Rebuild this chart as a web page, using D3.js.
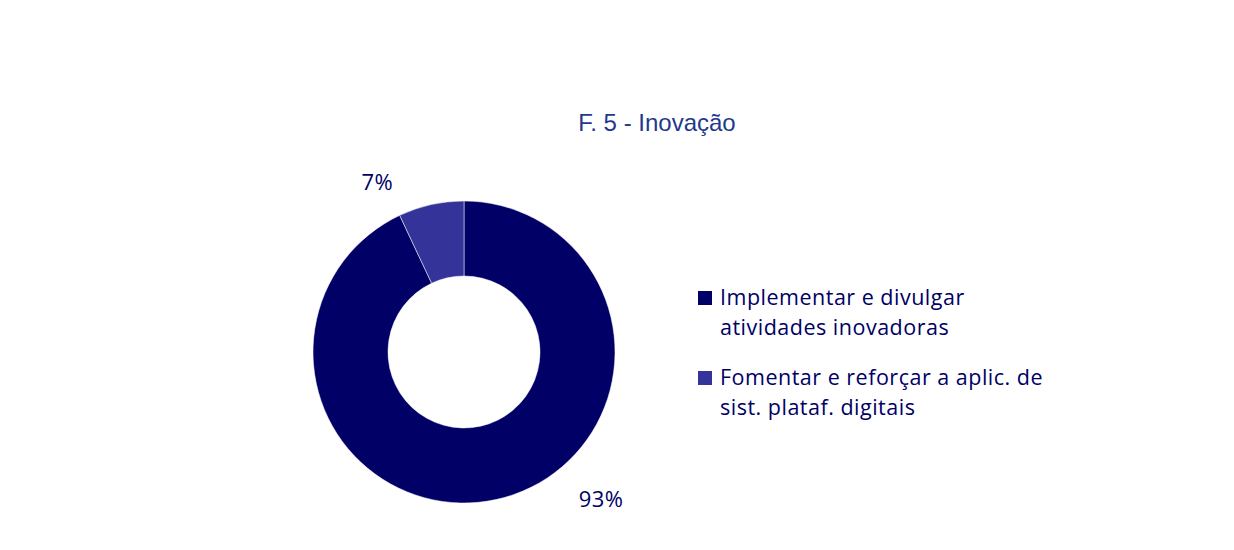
<!DOCTYPE html>
<html>
<head>
<meta charset="utf-8">
<script src="https://cdn.jsdelivr.net/npm/d3@7"></script>
<style>
  body { margin: 0; background: #fff; }
  svg { display: block; }
</style>
</head>
<body>
<svg id="chart" width="1234" height="550"></svg>
<script>
// Innovation breakdown
const title = "F. 5 - Inovação";
const categories = [
  ["Implementar e divulgar", "atividades inovadoras"],
  ["Fomentar e reforçar a aplic. de", "sist. plataf. digitais"]
];
const values = [93, 7];
const colors = ["#000066", "#333399"];

const svg = d3.select("#chart");
const cx = 464, cy = 352, outerR = 151, innerR = 76;
const bodyFont = "Open Sans, sans-serif";

svg.append("text")
  .attr("x", 657).attr("y", 131)
  .attr("text-anchor", "middle")
  .attr("font-family", "Liberation Sans, Arial, sans-serif")
  .attr("font-size", 24)
  .attr("fill", "#1f3a8c")
  .text(title);

const pie = d3.pie().sort(null).value(d => d);
const arcs = pie(values);
const arc = d3.arc().innerRadius(innerR).outerRadius(outerR);

const g = svg.append("g").attr("transform", `translate(${cx},${cy})`);
g.selectAll("path.slice")
  .data(arcs)
  .join("path")
  .attr("class", "slice")
  .attr("d", arc)
  .attr("fill", (d, i) => colors[i])
  .attr("stroke", "#fff")
  .attr("stroke-width", 0.5);

// percentage labels placed outside the ring
const labelPos = [
  { angle: 137 * Math.PI / 180, r: 201 },
  { angle: -27 * Math.PI / 180, r: 191 }
];
g.selectAll("text.pct")
  .data(arcs)
  .join("text")
  .attr("class", "pct")
  .attr("x", (d, i) => labelPos[i].r * Math.sin(labelPos[i].angle))
  .attr("y", (d, i) => -labelPos[i].r * Math.cos(labelPos[i].angle))
  .attr("dy", "0.35em")
  .attr("text-anchor", "middle")
  .attr("font-family", bodyFont)
  .attr("font-size", 22)
  .attr("letter-spacing", 0.5)
  .attr("fill", "#000066")
  .text(d => d.data + "%");

// legend
const legend = svg.append("g").attr("transform", "translate(698,0)");
const rows = legend.selectAll("g.item")
  .data(categories)
  .join("g")
  .attr("class", "item")
  .attr("transform", (d, i) => `translate(0,${298 + i * 80})`);
rows.append("rect")
  .attr("x", 0).attr("y", -7)
  .attr("width", 14).attr("height", 14)
  .attr("fill", (d, i) => colors[i]);
rows.each(function(lines) {
  const t = d3.select(this).append("text")
    .attr("font-family", bodyFont)
    .attr("font-size", 21.5)
    .attr("letter-spacing", 0.5)
    .attr("fill", "#000066");
  lines.forEach((ln, j) => {
    t.append("tspan").attr("x", 22).attr("y", 7 + j * 30).text(ln);
  });
});
</script>
</body>
</html>
